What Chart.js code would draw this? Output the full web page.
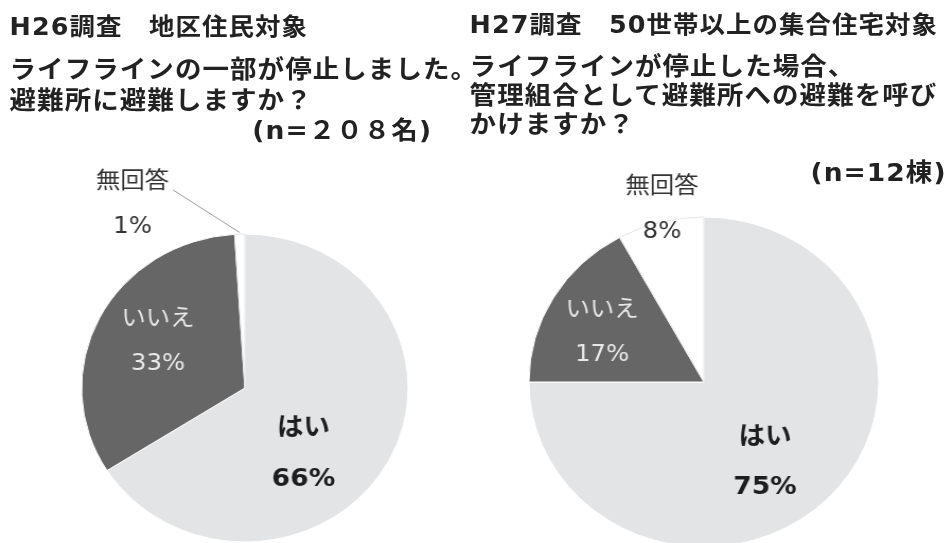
<!DOCTYPE html>
<html lang="ja">
<head>
<meta charset="utf-8">
<script src="https://cdn.jsdelivr.net/npm/chart.js@4.4.1/dist/chart.umd.min.js"></script>
<style>
    html, body { margin: 0; padding: 0; background: #fff; overflow: hidden; }
    /* the original picture is a little wider than tall, so stretch everything */
    #page { position: relative; width: 897px; height: 543px; transform: scaleX(1.06); transform-origin: 0 0; overflow: hidden; }
    .t { position: absolute; white-space: nowrap; font-family: "DejaVu Sans", "Noto Sans CJK JP", sans-serif; font-weight: bold; color: #222; line-height: 30px; }
    .h { font-size: 24px; letter-spacing: 1px; }
    .q { font-size: 25px; letter-spacing: 1px; }
    canvas { position: absolute; }
</style>
</head>
<body>
<div id="page">
    <div class="t h" style="left:9px;top:12px">H26調査　地区住民対象</div>
    <div class="t q" style="left:9px;top:55px">ライフラインの一部が停止しました。</div>
    <div class="t q" style="left:9px;top:86px">避難所に避難しますか？</div>
    <div class="t q" style="left:238px;top:116px">(n=２０８名)</div>

    <div class="t h" style="left:443px;top:10px">H27調査　50世帯以上の集合住宅対象</div>
    <div class="t q" style="left:443px;top:52px">ライフラインが停止した場合、</div>
    <div class="t q" style="left:443px;top:81px">管理組合として避難所への避難を呼び</div>
    <div class="t q" style="left:443px;top:110px">かけますか？</div>
    <div class="t q" style="right:4px;top:158px">(n=12棟)</div>

    <canvas id="h26" width="460" height="460" style="left:1px;top:158px;width:460px;height:460px"></canvas>
    <canvas id="h27" width="460" height="460" style="left:434px;top:152px;width:460px;height:460px"></canvas>
</div>
<script>
var categories = ["はい", "いいえ", "無回答"];
var h26Values = [66, 33, 1];
var h27Values = [75, 17, 8];

var sliceColors = ["#e3e4e6", "#666666", "#ffffff"];
var sliceBorders = ["#ffffff", "#ffffff", "#e6e6e6"];

var fontList = '"DejaVu Sans", "Noto Sans CJK JP", sans-serif';
var labelStyles = [
    { font: "bold 25px " + fontList, color: "#1e1e1e" },
    { font: "23px " + fontList, color: "#e8e8e8" },
    { font: "23px " + fontList, color: "#333333" }
];

// draws the name and the percent of every slice, positions are in units of the radius
var sliceLabels = {
    id: "sliceLabels",
    afterDatasetsDraw: function (chart, args, opts) {
        var ctx = chart.ctx;
        var meta = chart.getDatasetMeta(0);
        var values = chart.data.datasets[0].data;
        ctx.save();
        ctx.textAlign = "center";
        ctx.textBaseline = "middle";
        meta.data.forEach(function (arc, i) {
            var r = arc.outerRadius;
            var p = opts.pos[i];
            ctx.font = labelStyles[i].font;
            ctx.fillStyle = labelStyles[i].color;
            ctx.fillText(chart.data.labels[i], arc.x + p[0] * r, arc.y + p[1] * r);
            ctx.fillText(values[i] + "%", arc.x + p[0] * r, arc.y + p[2] * r);
        });
        if (opts.leader) {
            var arc = meta.data[opts.leader.index];
            var mid = (arc.startAngle + arc.endAngle) / 2;
            var r = arc.outerRadius;
            ctx.strokeStyle = "#9a9a9a";
            ctx.lineWidth = 1;
            ctx.beginPath();
            ctx.moveTo(arc.x + opts.leader.from[0] * r, arc.y + opts.leader.from[1] * r);
            ctx.lineTo(arc.x + Math.cos(mid) * r * 1.01, arc.y + Math.sin(mid) * r * 1.01);
            ctx.stroke();
        }
        ctx.restore();
    }
};

function makePie(id, values, radius, pos, leader) {
    return new Chart(document.getElementById(id), {
        type: "pie",
        data: {
            labels: categories,
            datasets: [{
                data: values,
                backgroundColor: sliceColors,
                borderColor: sliceBorders,
                borderWidth: 1
            }]
        },
        options: {
            responsive: false,
            animation: false,
            radius: radius,
            layout: { padding: 0 },
            plugins: {
                legend: { display: false },
                tooltip: { enabled: false },
                sliceLabels: { pos: pos, leader: leader }
            }
        },
        plugins: [sliceLabels]
    });
}

var h26Pie = makePie("h26", h26Values, 154,
    [[0.359, 0.266, 0.591], [-0.532, -0.445, -0.156], [-0.688, -1.338, -1.045]],
    { index: 2, from: [-0.44, -1.286] });

var h27Pie = makePie("h27", h27Values, 165,
    [[0.35, 0.336, 0.639], [-0.582, -0.436, -0.164], [-0.239, -1.179, -0.909]],
    null);
</script>
</body>
</html>
